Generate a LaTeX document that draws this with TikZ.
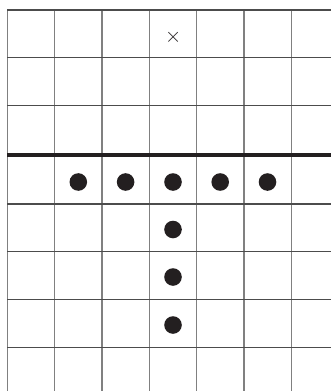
\documentclass[tikz,border=0pt]{standalone}
\definecolor{ink}{HTML}{231F20}
\begin{document}
\begin{tikzpicture}[x=1pt,y=-1pt,
  vline/.style={draw=black!50,line width=1.4pt},
  hline/.style={draw=black!70,line width=1.3pt},
  barline/.style={draw=ink,line width=4pt},
  stone/.style={circle,fill=ink,inner sep=0pt,minimum size=17.6pt},
  mark x/.style={inner sep=0pt,text=ink,font=\fontsize{20}{20}\selectfont}]
\useasboundingbox (0,0) rectangle (331,391);
% vertical lines
\foreach \x in {7.3,54.7,102,149.3,196.6,243.9,291.2}
  \draw[vline] (\x,10) -- (\x,391);
% horizontal lines
\foreach \y in {10,57.3,105.3,204,251.7,299.5,347.3}
  \draw[hline] (7.3,\y) -- (331,\y);
\draw[barline] (7.3,154.7) -- (331,154.7);
% cross
\node[mark x] (cross) at (173.3,37.3) {$\times$};
% stones
\node[stone] (s1) at (78.3,182) {};
\node[stone] (s2) at (125.6,182) {};
\node[stone] (s3) at (173,182) {};
\node[stone] (s4) at (220.2,182) {};
\node[stone] (s5) at (267.5,182) {};
\node[stone] (s6) at (173,229.5) {};
\node[stone] (s7) at (173,277) {};
\node[stone] (s8) at (173,325) {};
\end{tikzpicture}
\end{document}
